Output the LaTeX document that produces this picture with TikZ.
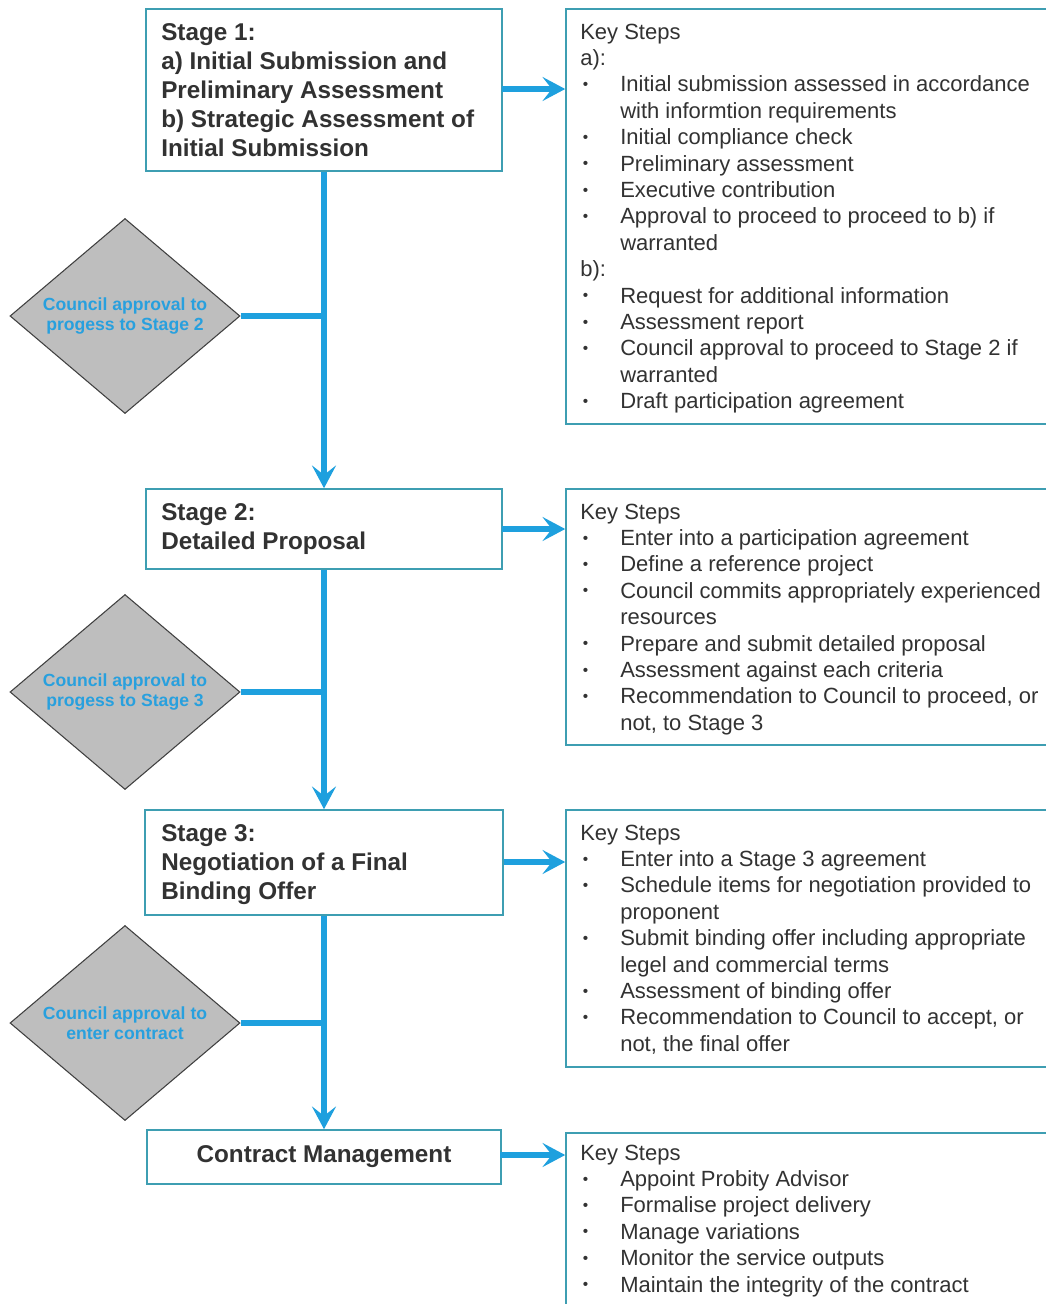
\documentclass[tikz,border=0pt]{standalone}
\usepackage{fontspec}
\usepackage{array}
\setmainfont{Liberation Sans}
\usetikzlibrary{shapes.geometric,arrows.meta}
\definecolor{boxline}{RGB}{62,158,178}
\definecolor{flow}{RGB}{30,160,222}
\definecolor{dtext}{RGB}{40,160,222}
\definecolor{tgray}{RGB}{50,50,50}
\definecolor{dfill}{RGB}{190,190,190}
\newcommand{\ksfont}{\fontsize{16.5}{19.8}\selectfont}
\newcommand{\stfont}{\fontsize{18.2}{21.75}\selectfont\bfseries}
\newcolumntype{B}{@{}p{30pt}@{}}
\newcommand{\bl}{\hspace*{2pt}\raisebox{0.2ex}{\scalebox{0.7}{•}}}
\tikzset{
  stagebox/.style={draw=boxline, line width=1.2pt, fill=white, inner sep=0pt},
  keybox/.style={draw=boxline, line width=1.2pt, fill=white, inner sep=0pt},
  decision/.style={diamond, draw=black!75, line width=0.8pt, fill=dfill, inner sep=0pt,
     aspect=1.18, minimum width=172.5pt, minimum height=146.25pt,
     text=dtext, font=\fontsize{13.2}{15}\selectfont\bfseries, align=center},
  flowline/.style={draw=flow, line width=3.8pt},
  flowarrow/.style={flowline, -{Stealth[length=17pt,width=18pt,inset=7pt]}},
  stagetext/.style={anchor=base west, inner sep=0pt, text=tgray, font=\stfont},
  keytext/.style={anchor=base west, inner sep=0pt, text=tgray, font=\ksfont}
}
\begin{document}
\begin{tikzpicture}[x=0.75pt,y=-0.75pt]
\useasboundingbox (0,0) rectangle (1046,1304);
\clip (0,0) rectangle (1046,1304);
\fill[white] (0,0) rectangle (1046,1304);

% stage boxes
\node[stagebox, minimum width=267pt, minimum height=121.5pt] (s1) at (324,90) {};
\node[stagebox, minimum width=267pt, minimum height=60pt] (s2) at (324,529) {};
\node[stagebox, minimum width=268.5pt, minimum height=78.75pt] (s3) at (324,862.5) {};
\node[stagebox, minimum width=265.5pt, minimum height=40.5pt] (cm) at (324,1157) {};

% key step boxes
\node[keybox, minimum width=370.5pt, minimum height=311.25pt] (k1) at (813,216.5) {};
\node[keybox, minimum width=370.5pt, minimum height=192pt] (k2) at (813,617) {};
\node[keybox, minimum width=370.5pt, minimum height=192.75pt] (k3) at (813,938.5) {};
\node[keybox, minimum width=370.5pt, minimum height=140.25pt] (k4) at (813,1226.5) {};

% decisions
\node[decision] (d1) at (125,316) {Council approval to\\progess to Stage 2};
\node[decision] (d2) at (125,692) {Council approval to\\progess to Stage 3};
\node[decision] (d3) at (125,1023) {Council approval to\\enter contract};

% vertical flow
\draw[flowarrow] (s1.south) -- (s2.north);
\draw[flowarrow] (s2.south) -- (s3.north);
\draw[flowarrow] (s3.south) -- (cm.north);

% decision connectors
\draw[flowline] (d1.east) -- (d1.east -| s1.south);
\draw[flowline] (d2.east) -- (d2.east -| s2.south);
\draw[flowline] (d3.east) -- (d3.east -| s3.south);

% horizontal arrows
\coordinate (a1) at (502,89);
\coordinate (a2) at (502,529);
\coordinate (a3) at (504,862);
\coordinate (a4) at (500,1155);
\draw[flowarrow] (a1) -- (a1 -| k1.west);
\draw[flowarrow] (a2) -- (a2 -| k2.west);
\draw[flowarrow] (a3) -- (a3 -| k3.west);
\draw[flowarrow] (a4) -- (a4 -| k4.west);

% stage texts
\node[stagetext] (t1) at (161,40) {\begin{tabular}[t]{@{}l@{}}Stage 1:\\a) Initial Submission and\\Preliminary Assessment\\b) Strategic Assessment of\\Initial Submission\end{tabular}};
\node[stagetext] (t2) at (161,520) {\begin{tabular}[t]{@{}l@{}}Stage 2:\\Detailed Proposal\end{tabular}};
\node[stagetext] (t3) at (161,841) {\begin{tabular}[t]{@{}l@{}}Stage 3:\\Negotiation of a Final\\Binding Offer\end{tabular}};
\node[text=tgray, font=\stfont, inner sep=0pt] (t4) at (cm.center) {Contract Management};

% key step texts
\node[keytext] (x1) at (580,39) {\begin{tabular}[t]{Bl@{}}
\multicolumn{2}{@{}l@{}}{Key Steps}\\
\multicolumn{2}{@{}l@{}}{a):}\\
\bl & Initial submission assessed in accordance\\
 & with informtion requirements\\
\bl & Initial compliance check\\
\bl & Preliminary assessment\\
\bl & Executive contribution\\
\bl & Approval to proceed to proceed to b) if\\
 & warranted\\
\multicolumn{2}{@{}l@{}}{b):}\\
\bl & Request for additional information\\
\bl & Assessment report\\
\bl & Council approval to proceed to Stage 2 if\\
 & warranted\\
\bl & Draft participation agreement
\end{tabular}};

\node[keytext] (x2) at (580,519) {\begin{tabular}[t]{Bl@{}}
\multicolumn{2}{@{}l@{}}{Key Steps}\\
\bl & Enter into a participation agreement\\
\bl & Define a reference project\\
\bl & Council commits appropriately experienced\\
 & resources\\
\bl & Prepare and submit detailed proposal\\
\bl & Assessment against each criteria\\
\bl & Recommendation to Council to proceed, or\\
 & not, to Stage 3
\end{tabular}};

\node[keytext] (x3) at (580,840) {\begin{tabular}[t]{Bl@{}}
\multicolumn{2}{@{}l@{}}{Key Steps}\\
\bl & Enter into a Stage 3 agreement\\
\bl & Schedule items for negotiation provided to\\
 & proponent\\
\bl & Submit binding offer including appropriate\\
 & legel and commercial terms\\
\bl & Assessment of binding offer\\
\bl & Recommendation to Council to accept, or\\
 & not, the final offer
\end{tabular}};

\node[keytext] (x4) at (580,1160) {\begin{tabular}[t]{Bl@{}}
\multicolumn{2}{@{}l@{}}{Key Steps}\\
\bl & Appoint Probity Advisor\\
\bl & Formalise project delivery\\
\bl & Manage variations\\
\bl & Monitor the service outputs\\
\bl & Maintain the integrity of the contract
\end{tabular}};
\end{tikzpicture}
\end{document}
